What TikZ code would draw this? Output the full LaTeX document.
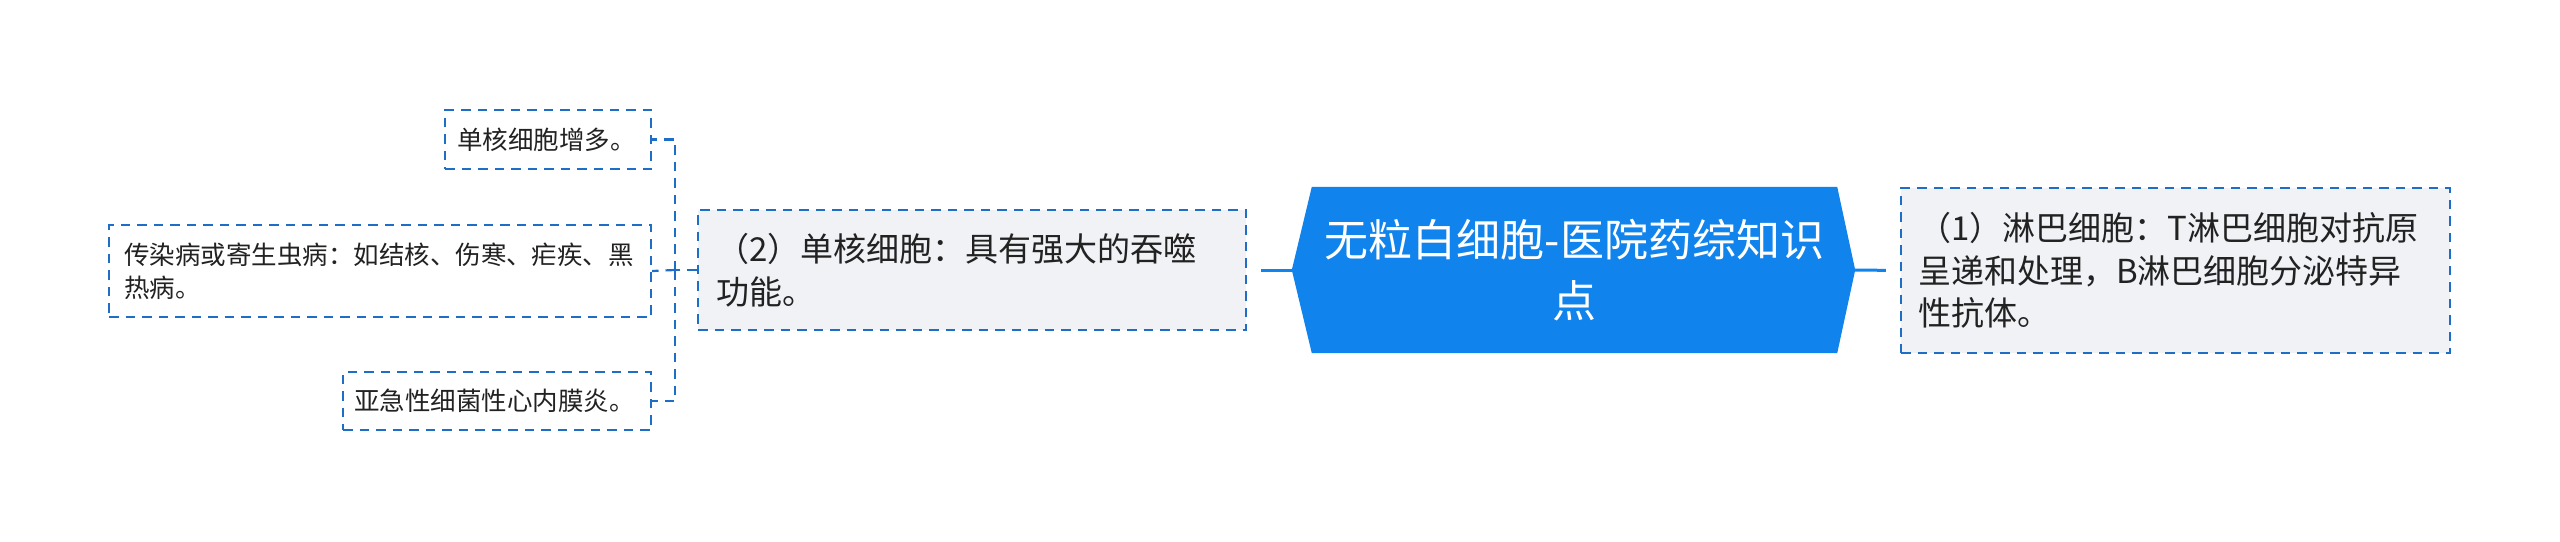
\documentclass[tikz,border=0pt]{standalone}
\usepackage{fontspec}
\setmainfont{Noto Sans CJK SC}
\usetikzlibrary{calc,backgrounds}
\definecolor{hexblue}{HTML}{1183EC}
\definecolor{dashblue}{HTML}{1E6EC8}
\definecolor{boxgray}{HTML}{F0F2F5}
\definecolor{txt}{HTML}{222222}
\begin{document}
\begin{tikzpicture}[x=1pt,y=-1pt,
  dashline/.style={draw=dashblue, line width=2.2pt, dash pattern=on 9.5pt off 7pt},
  dbox/.style={dashline, fill=boxgray, rectangle, align=left, inner ysep=0pt, text=txt},
  lbox/.style={dashline, fill=white, rectangle, align=left, inner ysep=0pt, text=txt},
  mainlink/.style={draw=hexblue, line width=3pt},
  midfont/.style={font=\fontsize{33}{42.5}\selectfont},
  smallfont/.style={font=\fontsize{25.5}{33}\selectfont}]
\useasboundingbox (0,0) rectangle (2560,541);

% central topic
\node[minimum width=525, minimum height=166, inner sep=0pt, text=white, align=center,
      font=\fontsize{44}{61}\selectfont] (c) at (1574.5,270) {无粒白细胞-医院药综知识\\点};
\coordinate (cl) at ($(c.west)+(-20,0)$);
\coordinate (cr) at ($(c.east)+(18,0)$);
\begin{scope}[on background layer]
  \fill[hexblue] (c.north west) -- (c.north east) -- (cr) -- (c.south east) -- (c.south west) -- (cl) -- cycle;
\end{scope}

% right node
\node[dbox, midfont, minimum width=549, minimum height=165, inner xsep=17pt, text width=515pt] (n1) at (2175.5,270.5)
  {（1）淋巴细胞：T淋巴细胞对抗原\\呈递和处理，B淋巴细胞分泌特异\\性抗体。};

% left node
\node[dbox, midfont, minimum width=548, minimum height=120, inner xsep=18pt, text width=512pt] (n2) at (972,270)
  {（2）单核细胞：具有强大的吞噬\\功能。};

% children
\node[lbox, smallfont, minimum width=206, minimum height=59, inner xsep=12pt, text width=182pt] (ka) at (548,139.5)
  {单核细胞增多。};
\node[lbox, smallfont, minimum width=542, minimum height=92, inner xsep=15pt, text width=512pt] (kb) at (380,271)
  {传染病或寄生虫病：如结核、伤寒、疟疾、黑\\热病。};
\node[lbox, smallfont, minimum width=308, minimum height=58, inner xsep=11pt, text width=286pt] (kc) at (497,401)
  {亚急性细菌性心内膜炎。};

% connectors
\draw[mainlink, shorten >=14pt] (cl) -- (n2.east);
\draw[mainlink, shorten >=14pt] (cr) -- (n1.west);

\coordinate (j) at (675,270);
\draw[dashline] (n2.west) -- (j);
\draw[dashline] (j) |- (ka.east);
\draw[dashline] (j) |- (kc.east);
\draw[dashline] (j) -- (kb.east);
\end{tikzpicture}
\end{document}
